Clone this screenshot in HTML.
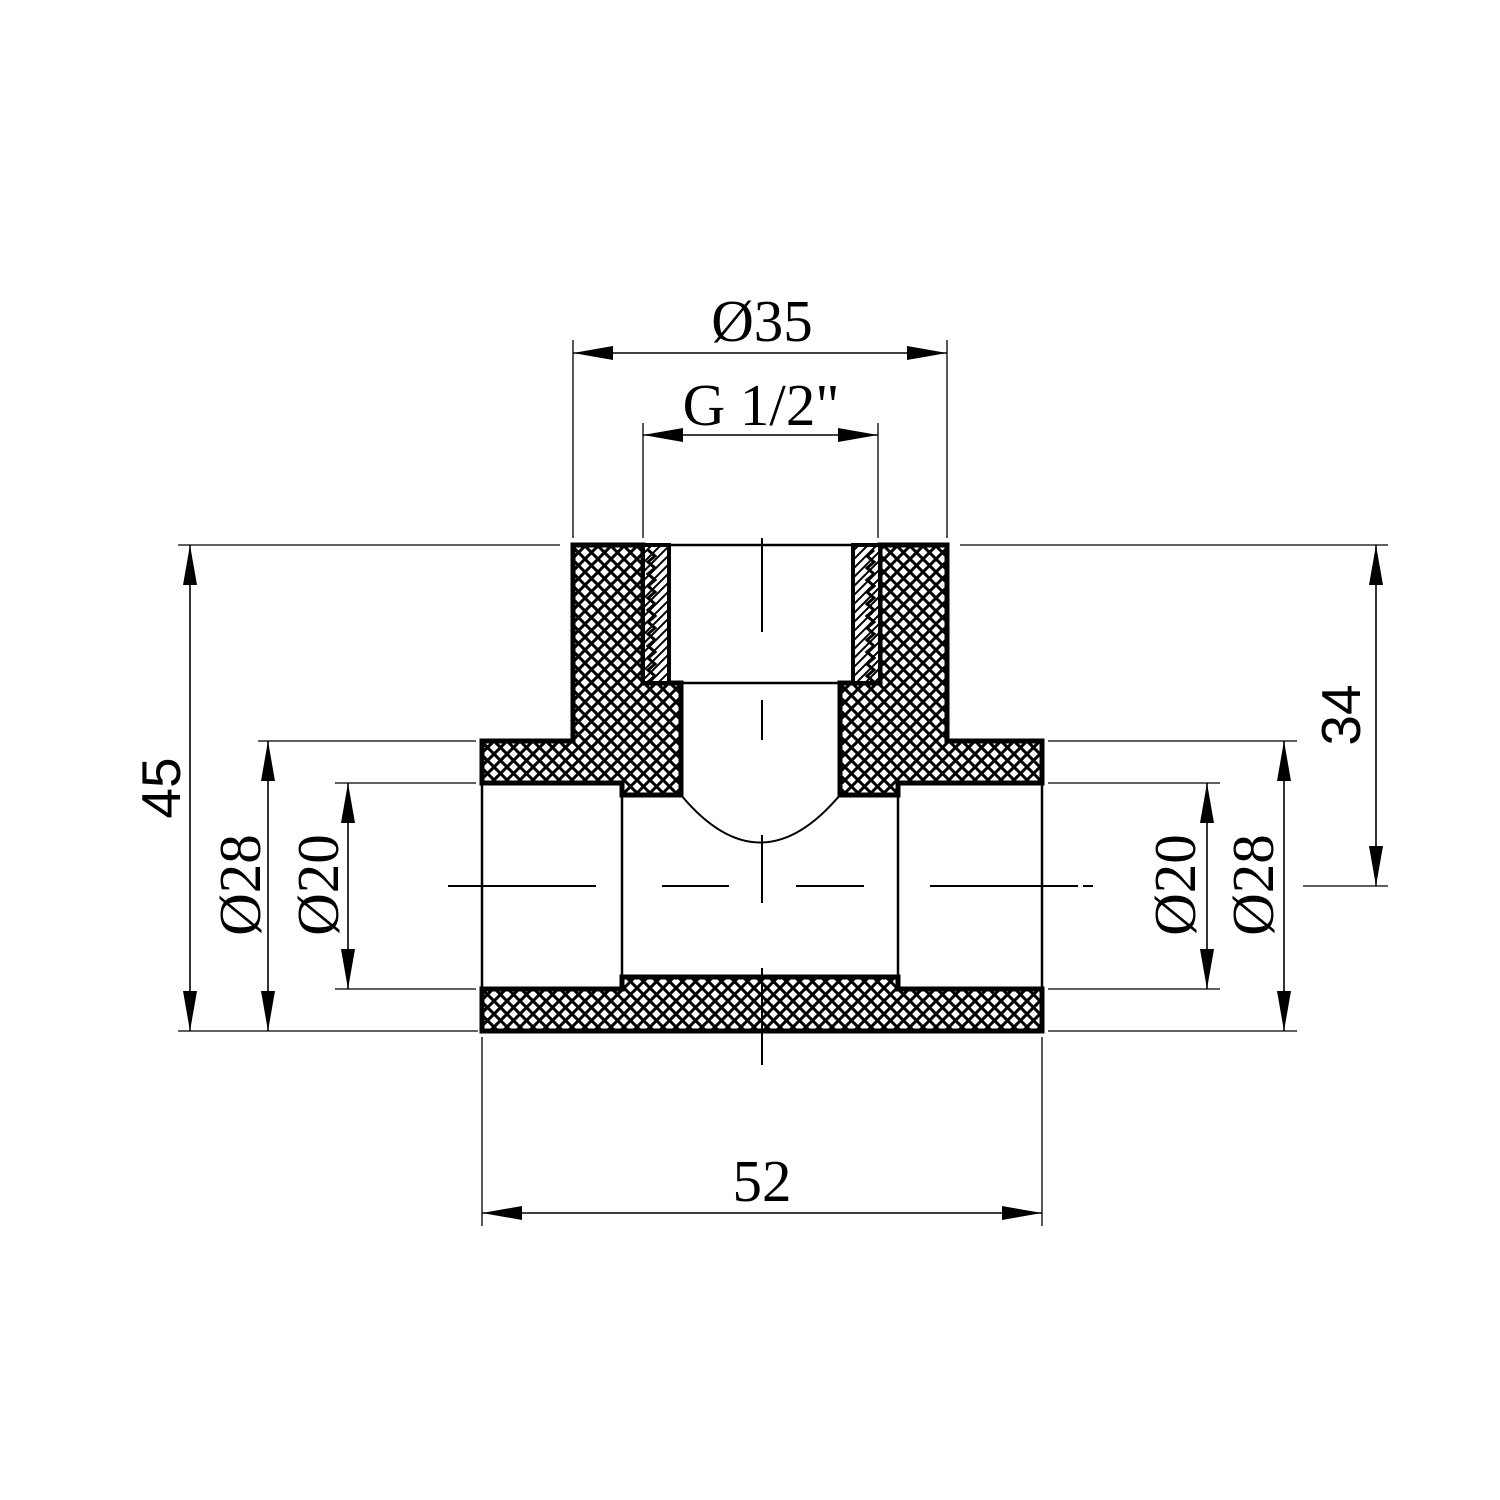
<!DOCTYPE html>
<html><head><meta charset="utf-8"><style>html,body{margin:0;padding:0;background:#fff}svg{display:block}</style></head>
<body>
<svg width="1500" height="1500" viewBox="0 0 1500 1500" xmlns="http://www.w3.org/2000/svg">
<defs>
<pattern id="h" width="13" height="13" patternUnits="userSpaceOnUse">
<rect width="13" height="13" fill="#fff"/>
<path d="M-1,-1 L14,14 M-1,12 L1,14 M12,-1 L14,1 M14,-1 L-1,14 M-1,1 L1,-1 M12,14 L14,12" stroke="#000" stroke-width="3"/>
</pattern>
<pattern id="s" width="9" height="9" patternUnits="userSpaceOnUse">
<rect width="9" height="9" fill="#fff"/>
<path d="M-1,10 L10,-1 M-1,1 L1,-1 M8,10 L10,8" stroke="#000" stroke-width="2"/>
</pattern>
<marker id="a" viewBox="0 0 40 14" refX="40" refY="7" markerWidth="40" markerHeight="14" markerUnits="userSpaceOnUse" orient="auto-start-reverse">
<path d="M0,0 L40,7 L0,14 Z" fill="#000"/>
</marker>
</defs>

<g stroke="#000" stroke-width="5" stroke-linejoin="miter">
<path fill="url(#h)" d="M573,545 L643,545 L643,683 L681,683 L681,795 L622,795 L622,783 L482,783 L482,741 L573,741 Z"/>
<path fill="url(#h)" d="M947,545 L880,545 L880,683 L840,683 L840,795 L898,795 L898,783 L1042,783 L1042,741 L947,741 Z"/>
<path fill="url(#h)" d="M482,1031 L1042,1031 L1042,989 L898,989 L898,977 L622,977 L622,989 L482,989 Z"/>
<rect x="643" y="545" width="26" height="138" fill="url(#s)" stroke-width="4"/>
<rect x="853" y="545" width="27" height="138" fill="url(#s)" stroke-width="4"/>
</g>
<path d="M648,550 l7,6 l-7,6 l7,6 l-7,6 l7,6 l-7,6 l7,6 l-7,6 l7,6 l-7,6 l7,6 l-7,6 l7,6 l-7,6 l7,6 l-7,6 l7,6 l-7,6 l7,6 l-7,6 l7,6 l-7,6" fill="none" stroke="#000" stroke-width="3"/>
<path d="M874,550 l-7,6 l7,6 l-7,6 l7,6 l-7,6 l7,6 l-7,6 l7,6 l-7,6 l7,6 l-7,6 l7,6 l-7,6 l7,6 l-7,6 l7,6 l-7,6 l7,6 l-7,6 l7,6 l-7,6 l7,6" fill="none" stroke="#000" stroke-width="3"/>

<g stroke="#000" fill="none">
<line x1="669" y1="545" x2="853" y2="545" stroke-width="2.5"/>
<line x1="669" y1="683" x2="853" y2="683" stroke-width="2.5"/>
<line x1="482" y1="783" x2="482" y2="989" stroke-width="2.5"/>
<line x1="1042" y1="783" x2="1042" y2="989" stroke-width="2.5"/>
<line x1="622" y1="795" x2="622" y2="977" stroke-width="2.5"/>
<line x1="898" y1="795" x2="898" y2="977" stroke-width="2.5"/>
<path d="M681,795 Q760,890 840,795" stroke-width="2"/>
<g stroke-width="2">
<line x1="448" y1="886" x2="596" y2="886"/>
<line x1="662" y1="886" x2="729" y2="886"/>
<line x1="796" y1="886" x2="864" y2="886"/>
<line x1="930" y1="886" x2="1078" y2="886"/>
<line x1="1083" y1="886" x2="1093" y2="886"/>
<line x1="762" y1="538" x2="762" y2="632"/>
<line x1="762" y1="700" x2="762" y2="740"/>
<line x1="762" y1="835" x2="762" y2="903"/>
<line x1="762" y1="968" x2="762" y2="1065"/>
</g>
<g stroke-width="1.3">
<line x1="573" y1="340" x2="573" y2="538"/>
<line x1="947" y1="340" x2="947" y2="538"/>
<line x1="643" y1="423" x2="643" y2="538"/>
<line x1="878" y1="423" x2="878" y2="538"/>
<line x1="178" y1="545" x2="560" y2="545"/>
<line x1="178" y1="1031" x2="478" y2="1031"/>
<line x1="258" y1="741" x2="476" y2="741"/>
<line x1="335" y1="783" x2="476" y2="783"/>
<line x1="335" y1="989" x2="476" y2="989"/>
<line x1="960" y1="545" x2="1388" y2="545"/>
<line x1="1048" y1="741" x2="1297" y2="741"/>
<line x1="1048" y1="783" x2="1220" y2="783"/>
<line x1="1048" y1="989" x2="1220" y2="989"/>
<line x1="1048" y1="1031" x2="1297" y2="1031"/>
<line x1="1303" y1="886" x2="1388" y2="886"/>
<line x1="482" y1="1037" x2="482" y2="1226"/>
<line x1="1042" y1="1037" x2="1042" y2="1226"/>
</g>
<g stroke-width="1.6" marker-start="url(#a)" marker-end="url(#a)">
<line x1="573" y1="353" x2="947" y2="353"/>
<line x1="643" y1="435" x2="878" y2="435"/>
<line x1="190" y1="545" x2="190" y2="1031"/>
<line x1="268" y1="741" x2="268" y2="1031"/>
<line x1="348" y1="783" x2="348" y2="989"/>
<line x1="1207" y1="783" x2="1207" y2="989"/>
<line x1="1284" y1="741" x2="1284" y2="1031"/>
<line x1="1376" y1="545" x2="1376" y2="886"/>
<line x1="482" y1="1213" x2="1042" y2="1213"/>
</g>
</g>

<g font-family="'Liberation Serif', serif" font-size="59" fill="#000" text-anchor="middle">
<text x="762" y="341">Ø35</text>
<text x="761" y="425">G 1/2"</text>
<text x="762" y="1201">52</text>
<text transform="translate(260,885) rotate(-90)">Ø28</text>
<text transform="translate(338,885) rotate(-90)">Ø20</text>
<text transform="translate(1195,885) rotate(-90)">Ø20</text>
<text transform="translate(1273,885) rotate(-90)">Ø28</text>
</g>
<g font-family="'Liberation Sans', sans-serif" font-size="55" fill="#000" text-anchor="middle">
<text transform="translate(180,788) rotate(-90)">45</text>
<text transform="translate(1360,715) rotate(-90)">34</text>
</g>
</svg>
</body></html>
